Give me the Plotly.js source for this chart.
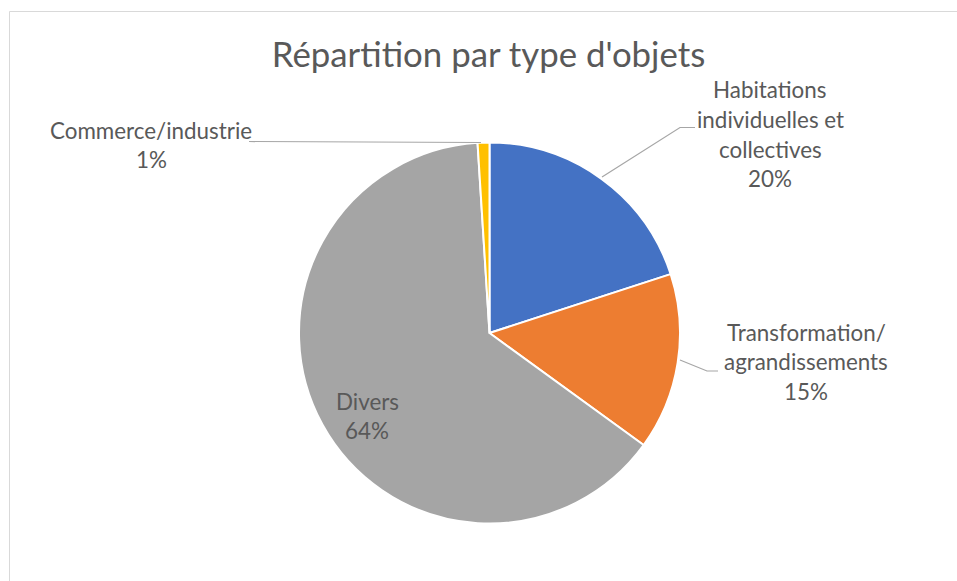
<!DOCTYPE html>
<html>
<head>
<meta charset="utf-8">
<script src="https://cdn.plot.ly/plotly-3.0.1.min.js"></script>
<style>
  html, body { margin: 0; padding: 0; background: #ffffff; }
  #chart { width: 957px; height: 581px; }
</style>
</head>
<body>
<div id="chart"></div>
<script>
// Répartition par type d'objets
const categories = [
  "Habitations individuelles et collectives",
  "Transformation/ agrandissements",
  "Divers",
  "Commerce/industrie"
];
const values = [20, 15, 64, 1];
const colors = ["#4472C4", "#ED7D31", "#A5A5A5", "#FFC000"];
// label lines as laid out around the pie
const labelLines = [
  ["Habitations", "individuelles et", "collectives"],
  ["Transformation/", "agrandissements"],
  ["Divers"],
  ["Commerce/industrie"]
];

const W = 957, H = 581;
const fx = x => x / W;
const fy = y => (H - y) / H;

const FONT = "Lato, 'Open Sans', sans-serif";
const TEXT_COLOR = "#595959";
const LINE_H = 29.6;

// label block anchors (pixel centre x, first line centre y)
const labelPos = [
  { x: 770, y: 90 },
  { x: 806, y: 332 },
  { x: 367, y: 401 },
  { x: 151, y: 130 }
];

const total = values.reduce((a, b) => a + b, 0);
const annotations = [];
categories.forEach((c, i) => {
  const lines = labelLines[i].concat([Math.round(values[i] / total * 100) + "%"]);
  lines.forEach((t, k) => {
    annotations.push({
      xref: "paper", yref: "paper",
      x: fx(labelPos[i].x), y: fy(labelPos[i].y + k * LINE_H),
      xanchor: "center", yanchor: "middle",
      text: t, showarrow: false,
      font: { family: FONT, size: 22.4, color: TEXT_COLOR }
    });
  });
});

// leader lines (pixel polylines)
const leaders = [
  [[602, 177], [680, 127.5], [695, 127.5]],
  [[680, 360], [707, 371], [718, 371]],
  [[481, 142.5], [249, 141.5]]
];
const shapes = leaders.map(pts => ({
  type: "path", xref: "paper", yref: "paper",
  path: pts.map((p, k) => (k ? "L" : "M") + fx(p[0]) + "," + fy(p[1])).join(" "),
  line: { color: "#A6A6A6", width: 1.2 }
}));
// chart frame
shapes.push({
  type: "rect", xref: "paper", yref: "paper",
  x0: fx(9.5), y0: fy(700), x1: fx(1100), y1: fy(11.5),
  line: { color: "#D9D9D9", width: 1 }, fillcolor: "rgba(0,0,0,0)"
});

const cx = 489.5, cy = 333, r = 190.5;
const trace = {
  type: "pie",
  labels: categories,
  values: values,
  sort: false,
  direction: "clockwise",
  rotation: 0,
  textinfo: "none",
  hoverinfo: "label+percent",
  marker: { colors: colors, line: { color: "#ffffff", width: 2 } },
  domain: { x: [fx(cx - r), fx(cx + r)], y: [fy(cy + r), fy(cy - r)] },
  showlegend: false
};

const layout = {
  width: W, height: H,
  margin: { l: 0, r: 0, t: 0, b: 0 },
  paper_bgcolor: "#ffffff",
  title: {
    text: "Répartition par type d'objets",
    font: { family: FONT, size: 34.8, color: TEXT_COLOR },
    x: fx(488.5), xanchor: "center", xref: "paper",
    y: fy(55), yanchor: "middle", yref: "container"
  },
  annotations: annotations,
  shapes: shapes,
  showlegend: false
};

Plotly.newPlot("chart", [trace], layout, { displayModeBar: false, staticPlot: true });
</script>
</body>
</html>
